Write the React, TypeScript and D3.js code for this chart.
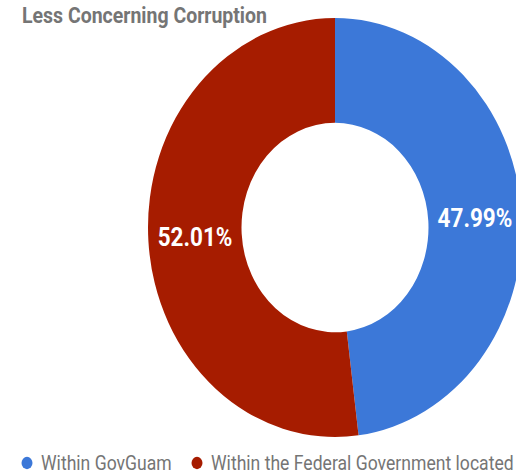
import { useRef, useEffect } from "react";
import * as d3 from "d3";

type Slice = { name: string; value: number; color: string };

const categories = ["Within GovGuam", "Within the Federal Government located"];
const values = [47.99, 52.01];
const colors = ["#3c78d8", "#a61c00"];

const title = "Less Concerning Corruption";

const width = 516;
const height = 474;

export default function App() {
  const ref = useRef<SVGSVGElement | null>(null);

  useEffect(() => {
    if (!ref.current) return;
    const svg = d3.select(ref.current);
    svg.selectAll("*").remove();

    const data: Slice[] = categories.map((name, i) => ({ name, value: values[i], color: colors[i] }));

    const cx = 335;
    const cy = 227.5;
    const radius = 187;
    const sy = 1.12; // picture is a bit taller than wide

    svg.append("rect").attr("width", width).attr("height", height).attr("fill", "#ffffff");

    const pie = d3.pie<Slice>().sort(null).value((d) => d.value)(data);
    const arc = d3.arc<d3.PieArcDatum<Slice>>().innerRadius(radius * 0.5).outerRadius(radius);
    const labelArc = d3.arc<d3.PieArcDatum<Slice>>().innerRadius(radius * 0.75).outerRadius(radius * 0.75);

    const g = svg.append("g").attr("transform", `translate(${cx},${cy}) scale(1,${sy})`);
    g.selectAll("path")
      .data(pie)
      .join("path")
      .attr("d", (d) => arc(d) ?? "")
      .attr("fill", (d) => d.data.color);

    // labels
    g.selectAll("text")
      .data(pie)
      .join("text")
      .attr("x", (d) => labelArc.centroid(d)[0])
      .attr("y", (d) => labelArc.centroid(d)[1] + 8)
      .attr("text-anchor", "middle")
      .style("font-family", "Roboto, sans-serif")
      .style("font-weight", "bold")
      .style("font-size", "22.5px")
      .style("fill", "#ffffff")
      .text((d) => `${d.data.value.toFixed(2)}%`);

    // title
    svg
      .append("text")
      .attr("transform", `translate(22,23) scale(1,${sy})`)
      .style("font-family", "Roboto, sans-serif")
      .style("font-weight", "bold")
      .style("font-size", "19.5px")
      .style("fill", "#757575")
      .text(title);

    // legend
    const legendX = [27, 197];
    const leg = svg
      .selectAll("g.leg")
      .data(data)
      .join("g")
      .attr("class", "leg")
      .attr("transform", (_d, i) => `translate(${legendX[i]},463) scale(1,${sy})`);
    leg.append("circle").attr("r", 5.5).attr("fill", (d) => d.color);
    leg
      .append("text")
      .attr("x", 14)
      .attr("y", 6)
      .style("font-family", "Roboto, sans-serif")
      .style("font-size", "17.6px")
      .style("fill", "#757575")
      .text((d) => d.name);
  }, []);

  return (
    <svg
      ref={ref}
      width={width}
      height={height}
      style={{ position: "absolute", left: 0, top: 0, display: "block" }}
    />
  );
}
